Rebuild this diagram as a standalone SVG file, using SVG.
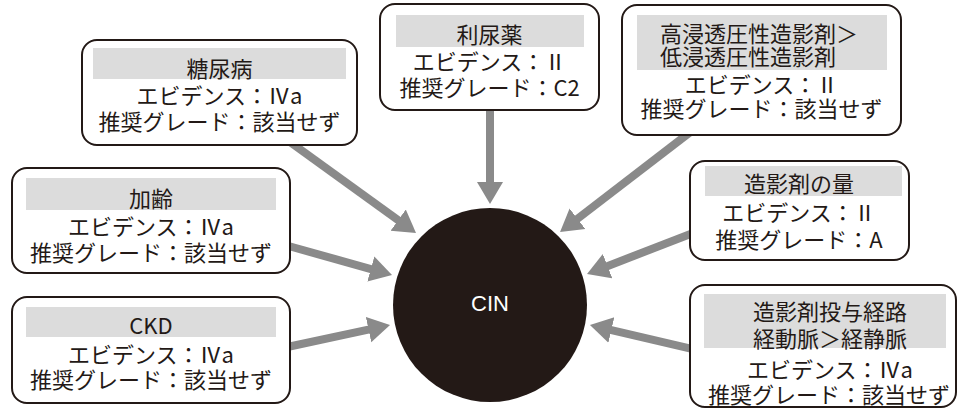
<svg xmlns="http://www.w3.org/2000/svg" width="958" height="409" viewBox="0 0 958 409">
<style>
.box{fill:#fff;stroke:#231916;stroke-width:2}
.band{fill:#dcdcdc}
.t{font-family:"Noto Sans CJK JP","Liberation Sans",sans-serif;font-size:22px;fill:#231916;text-anchor:middle;dominant-baseline:central}
.ts{text-anchor:start}
.arr{stroke:#8a8a8a;stroke-width:8;fill:none;marker-end:url(#ah)}
</style>
<defs>
<marker id="ah" markerUnits="userSpaceOnUse" markerWidth="24" markerHeight="28" viewBox="0 -14 24 28" refX="1" refY="0" orient="auto">
<path d="M0,-13 L22,0 L0,13z" fill="#8a8a8a"/>
</marker>
</defs>
<g id="connectors">
<line class="arr" x1="290" y1="142" x2="399" y2="220.7"/>
<line class="arr" x1="490" y1="105" x2="490" y2="183"/>
<line class="arr" x1="693" y1="130" x2="576.7" y2="219.3"/>
<line class="arr" x1="285" y1="245" x2="371.8" y2="269.3"/>
<line class="arr" x1="285" y1="347.5" x2="369.5" y2="329.4"/>
<line class="arr" x1="695" y1="232.3" x2="606.6" y2="266.4"/>
<line class="arr" x1="695" y1="349.6" x2="610.4" y2="329.8"/>
</g>
<g id="cin">
<circle cx="490" cy="305" r="97" fill="#231916"/>
<text x="490" y="303" font-family="Liberation Sans, Arial, sans-serif" font-size="22" fill="#fff" text-anchor="middle" dominant-baseline="central">CIN</text>
</g>
<g id="diabetes">
<rect class="box" x="82" y="40" width="275" height="105" rx="15"/>
<rect class="band" x="93" y="48" width="253" height="31"/>
<text class="t" x="219.5" y="67">糖尿病</text>
<text class="t" x="219.5" y="94">エビデンス：Ⅳa</text>
<text class="t" x="219.5" y="120">推奨グレード：該当せず</text>
</g>
<g id="diuretic">
<rect class="box" x="380" y="4" width="219" height="106" rx="15"/>
<rect class="band" x="396" y="15" width="188" height="32"/>
<text class="t" x="489.5" y="33">利尿薬</text>
<text class="t" x="489.5" y="60">エビデンス：Ⅱ</text>
<text class="t" x="489.5" y="86">推奨グレード：C2</text>
</g>
<g id="osmolality">
<rect class="box" x="622" y="5" width="279" height="130" rx="15"/>
<rect class="band" x="637" y="15" width="250" height="55"/>
<text class="t ts" x="660" y="32">高浸透圧性造影剤＞</text>
<text class="t ts" x="660" y="55">低浸透圧性造影剤</text>
<text class="t" x="761.5" y="83">エビデンス：Ⅱ</text>
<text class="t" x="761.5" y="107">推奨グレード：該当せず</text>
</g>
<g id="age">
<rect class="box" x="12" y="168" width="278" height="105" rx="15"/>
<rect class="band" x="26" y="178" width="250" height="32"/>
<text class="t" x="151" y="197">加齢</text>
<text class="t" x="151" y="225">エビデンス：Ⅳa</text>
<text class="t" x="151" y="251">推奨グレード：該当せず</text>
</g>
<g id="ckd">
<rect class="box" x="12" y="297" width="278" height="106" rx="15"/>
<rect class="band" x="26" y="307" width="250" height="30"/>
<text class="t" x="151" y="324">CKD</text>
<text class="t" x="151" y="353">エビデンス：Ⅳa</text>
<text class="t" x="151" y="378">推奨グレード：該当せず</text>
</g>
<g id="volume">
<rect class="box" x="690" y="161" width="219" height="99" rx="15"/>
<rect class="band" x="705" y="166" width="197" height="30"/>
<text class="t" x="799" y="182">造影剤の量</text>
<text class="t" x="799" y="211">エビデンス：Ⅱ</text>
<text class="t" x="799" y="238">推奨グレード：A</text>
</g>
<g id="route">
<rect class="box" x="690" y="285" width="266" height="122" rx="15"/>
<rect class="band" x="704" y="294" width="242" height="54"/>
<text class="t" x="830" y="310">造影剤投与経路</text>
<text class="t" x="830" y="337">経動脈＞経静脈</text>
<text class="t" x="830" y="368">エビデンス：Ⅳa</text>
<text class="t" x="829" y="393">推奨グレード：該当せず</text>
</g>
</svg>
